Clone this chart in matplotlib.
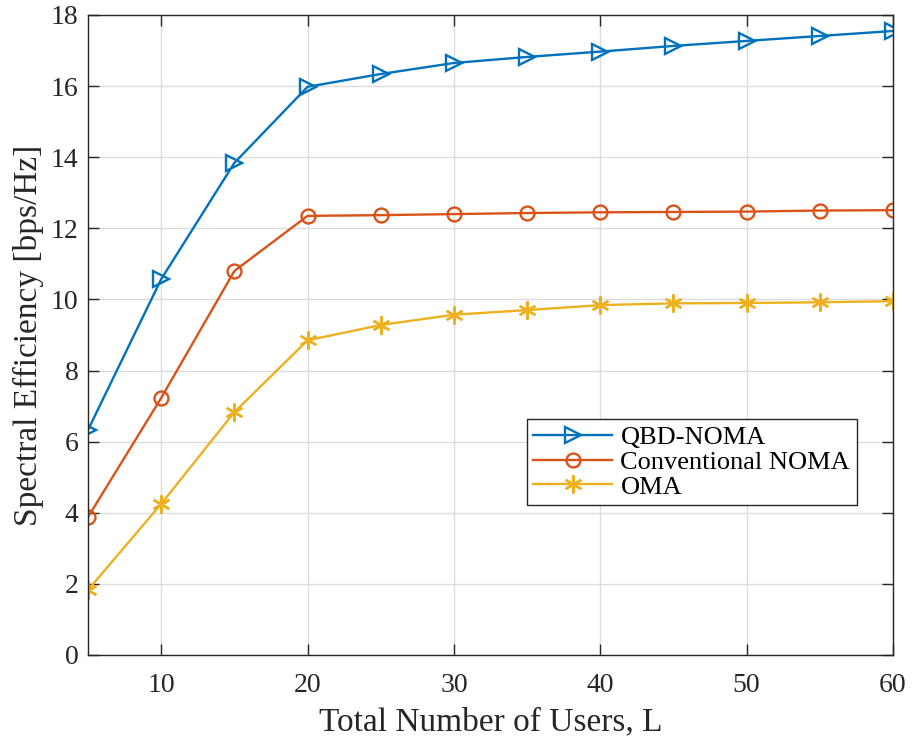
import matplotlib
matplotlib.use("Agg")
import matplotlib.pyplot as plt

plt.rcParams["font.family"] = ["Liberation Serif", "DejaVu Serif"]

users = [5, 10, 15, 20, 25, 30, 35, 40, 45, 50, 55, 60]
qbd_noma = [6.33, 10.57, 13.84, 15.98, 16.34, 16.65, 16.82, 16.97, 17.13, 17.27, 17.41, 17.55]
conv_noma = [3.88, 7.23, 10.80, 12.35, 12.37, 12.40, 12.43, 12.45, 12.46, 12.47, 12.50, 12.51]
oma = [1.83, 4.25, 6.83, 8.85, 9.28, 9.57, 9.70, 9.84, 9.89, 9.90, 9.92, 9.95]

fig = plt.figure(figsize=(9.14, 7.38), dpi=100)
ax = fig.add_axes([0.0963, 0.1125, 0.8807, 0.8672])

lw = 1.7
ax.plot(users, qbd_noma, color="#0072BD", marker=">", markersize=12, markerfacecolor="none",
        markeredgewidth=1.7, linewidth=lw, label="QBD-NOMA")
ax.plot(users, conv_noma, color="#D95319", marker="o", markersize=10, markerfacecolor="none",
        markeredgewidth=1.7, linewidth=lw, label="Conventional NOMA")
ax.plot(users, oma, color="#EDB120", marker=(6, 2, 0), markersize=13,
        markeredgewidth=1.7, linewidth=lw, label="OMA")

ax.set_xlim(5, 60)
ax.set_ylim(0, 18)
ax.set_xticks(range(10, 61, 10))
ax.set_yticks(range(0, 19, 2))
ax.tick_params(direction="in", top=True, right=True, labelsize=20, length=8, width=1.0,
               pad=7, colors="#262626")
ax.tick_params(axis="x", pad=13)
ax.grid(True, color="#dcdcdc", linewidth=1.0)
for s in ax.spines.values():
    s.set_color("#262626")
    s.set_linewidth(1.0)

ax.set_xlabel("Total Number of Users, L", fontsize=24, labelpad=6, color="#262626")
ax.set_ylabel("Spectral Efficiency [bps/Hz]", fontsize=24, labelpad=5, color="#262626")

leg = ax.legend(loc="lower left", bbox_to_anchor=(0.545, 0.234), fontsize=19, frameon=True,
                fancybox=False, edgecolor="#262626", framealpha=1, borderpad=0.25,
                labelspacing=0.05, handlelength=3.0, handletextpad=0.3, borderaxespad=0)
leg.get_frame().set_linewidth(1.0)

fig.savefig("out.png", dpi=100)
